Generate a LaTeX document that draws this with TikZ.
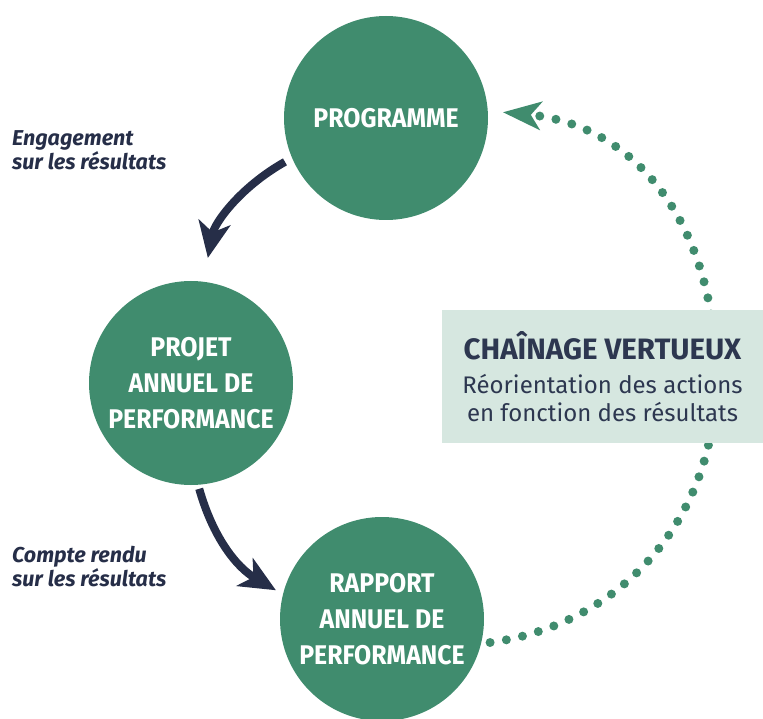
\documentclass[tikz,border=0pt]{standalone}
\usepackage{fontspec}
\setmainfont{Fira Sans}
\newfontfamily\condfont[FakeStretch=0.92]{Fira Sans}
\usetikzlibrary{arrows.meta}
\definecolor{circgreen}{RGB}{64,140,110}
\definecolor{navy}{RGB}{38,46,72}
\definecolor{chainfill}{RGB}{214,231,224}
\definecolor{chaintext}{RGB}{45,55,80}

\begin{document}
\begin{tikzpicture}[x=1pt, y=-1pt,
circ/.style={circle, align=center, fill=circgreen, minimum size=204pt, inner sep=0pt, text=white, font=\condfont\bfseries\fontsize{27}{36}\selectfont},
lbl/.style={anchor=base west, align=left, inner sep=0pt, text=navy, font=\bfseries\itshape\fontsize{21.5}{24}\selectfont},
chainbox/.style={rectangle, align=center, fill=chainfill, minimum width=321pt, minimum height=133pt, inner sep=0pt, text=chaintext, font=\fontsize{24}{28}\selectfont},
arrow/.style={-{Stealth[length=36pt, width=32pt, inset=10pt]}, line width=8pt, navy},
dots/.style={circgreen, line width=9pt, line cap=round, dash pattern=on 0pt off 16.5pt, -{Stealth[length=38pt, width=28pt, inset=10pt]}}]

	\useasboundingbox (0,0) rectangle (763,719);

	\node[circ] (prog) at (386,118) {PROGRAMME};
	\node[circ] (projet) at (191,383) {PROJET\\ ANNUEL DE\\ PERFORMANCE};
	\node[circ] (rapport) at (382,619) {RAPPORT\\ ANNUEL DE\\ PERFORMANCE};

	\node[lbl] (engage) at (12,170) {Engagement\\ sur les résultats};
	\node[lbl] (compte) at (12,586) {Compte rendu\\ sur les résultats};

	% retour vers le programme
	\draw[dots, shorten <=9pt, shorten >=15pt] (rapport.346) .. controls (620,625) and (716,520) .. (716,378)
		.. controls (716,230) and (640,125) .. (prog.4);

	\node[chainbox] (chain) at (602.5,376.5) {{\bfseries\fontsize{29.5}{28}\selectfont CHAÎNAGE VERTUEUX}\\[6pt] Réorientation des actions\\ en fonction des résultats};

	\draw (prog.203) edge [arrow, bend right=25, shorten <=8pt, shorten >=24pt] (projet.83);
	\draw (projet.274) edge [arrow, bend right=22, shorten <=4pt, shorten >=8pt] (rapport.166);
\end{tikzpicture}
\end{document}
